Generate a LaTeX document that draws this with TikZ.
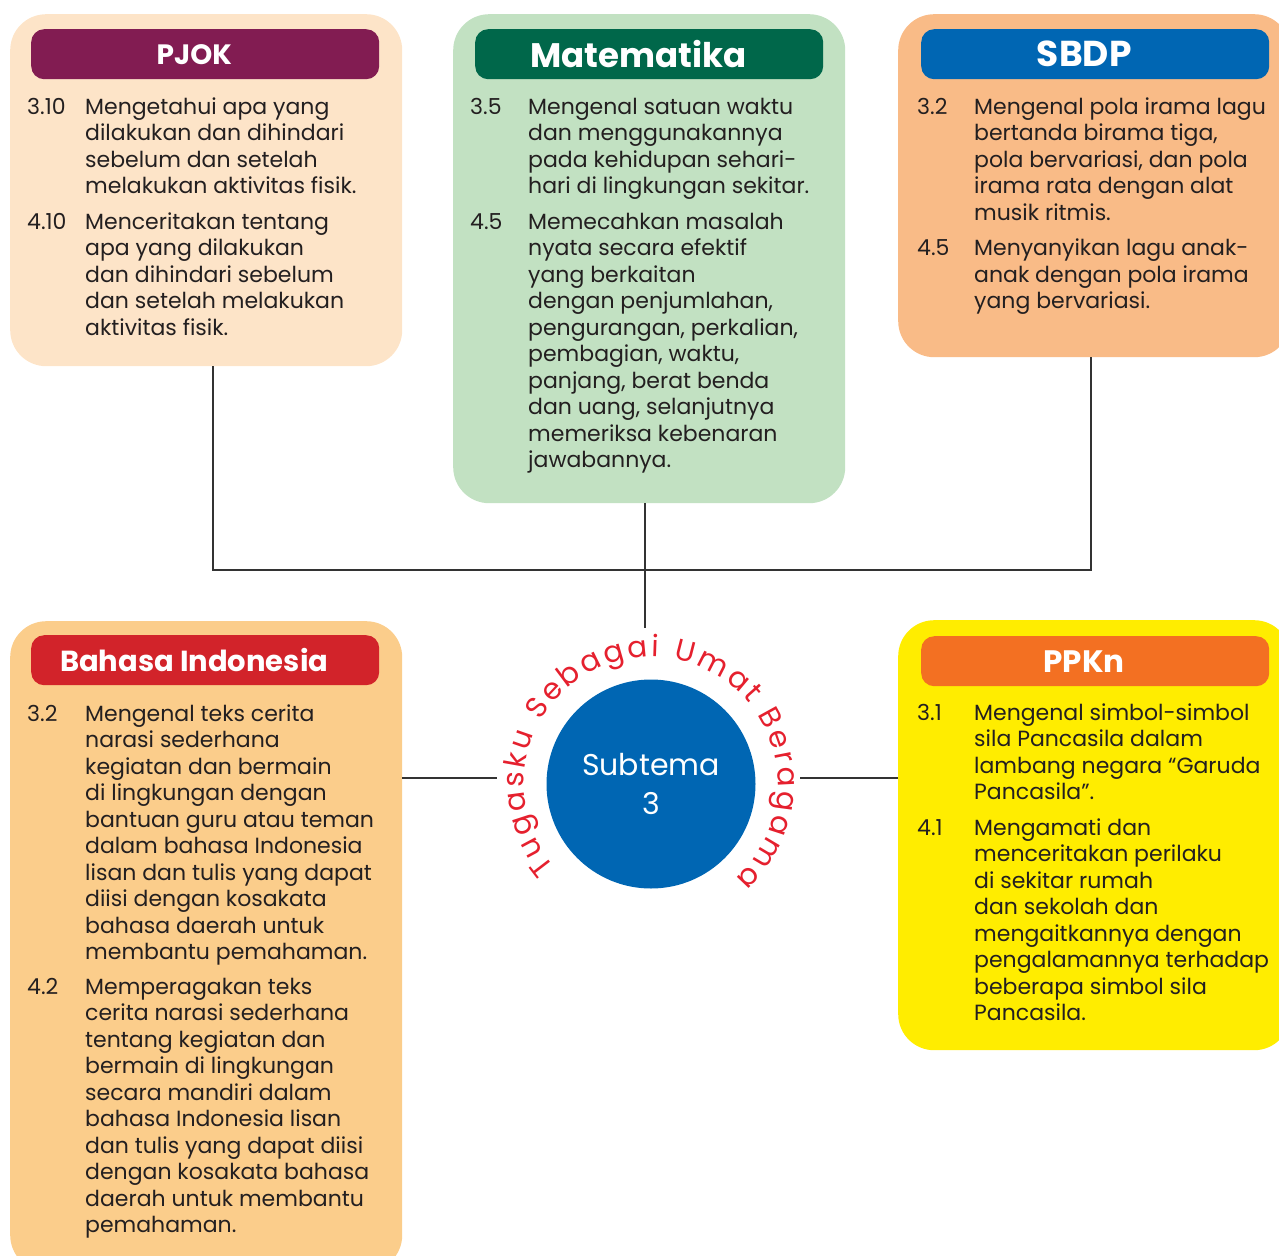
\documentclass[tikz,border=0pt]{standalone}
\usepackage{fontspec}
\setmainfont{Poppins}
\usetikzlibrary{decorations.text}

\definecolor{pjokfill}{HTML}{FDE4C8}
\definecolor{pjokhead}{HTML}{821C52}
\definecolor{matfill}{HTML}{C2E1C2}
\definecolor{mathead}{HTML}{00674A}
\definecolor{sbdpfill}{HTML}{F9BB87}
\definecolor{sbdphead}{HTML}{0066B3}
\definecolor{bindfill}{HTML}{FBCD8B}
\definecolor{bindhead}{HTML}{D2232A}
\definecolor{ppknfill}{HTML}{FFED00}
\definecolor{ppknhead}{HTML}{F37022}
\definecolor{temablue}{HTML}{0066B3}
\definecolor{arcred}{HTML}{E5202E}
\definecolor{ink}{HTML}{231F20}
\definecolor{linegray}{HTML}{333333}

\newcommand\headsz[1]{\bfseries\fontsize{#1}{#1}\selectfont}
\newcommand\arcfont{\fontsize{29.5}{30}\selectfont}

\begin{document}
\begin{tikzpicture}[
  x=1pt, y=1pt,
  panel/.style = {rectangle, rounded corners=36pt, fill=#1,
                  anchor=north west, inner sep=0pt},
  head/.style  = {rectangle, rounded corners=13pt, fill=#1,
                  text=white, anchor=north west, inner sep=0pt,
                  minimum width=348pt, minimum height=50pt,
                  execute at end node=\hspace*{22pt}},
  body/.style  = {anchor=base west, inner sep=0pt, text=ink,
                  font=\fontsize{22}{26.5}\selectfont},
  link/.style  = {draw=linegray, line width=2.5pt},
]
\clip (0,0) rectangle (1279,-1255);

%% ══ TOP ROW ═════════════════════════════════════════════════════════════
\node[panel=pjokfill, minimum width=392pt, minimum height=352pt]
  at (10,-14) (pjok) {};
\node[head=pjokhead, font=\headsz{28}] at (31,-29) (pjok-head) {PJOK};
\node[body] at (27,-114) (pjok-body) {%
  \begin{tabular}[t]{@{}p{58pt}@{}l@{}}
  3.10 & Mengetahui apa yang\\
       & dilakukan dan dihindari\\
       & sebelum dan setelah\\
       & melakukan aktivitas fisik.\\[9pt]
  4.10 & Menceritakan tentang\\
       & apa yang dilakukan\\
       & dan dihindari sebelum\\
       & dan setelah melakukan\\
       & aktivitas fisik.
  \end{tabular}};

\node[panel=matfill, minimum width=392pt, minimum height=489pt]
  at (453,-14) (mat) {};
\node[head=mathead, font=\headsz{34}] at (475,-29) (mat-head) {Matematika};
\node[body] at (470,-114) (mat-body) {%
  \begin{tabular}[t]{@{}p{58pt}@{}l@{}}
  3.5 & Mengenal satuan waktu\\
      & dan menggunakannya\\
      & pada kehidupan sehari-\\
      & hari di lingkungan sekitar.\\[9pt]
  4.5 & Memecahkan masalah\\
      & nyata secara efektif\\
      & yang berkaitan\\
      & dengan penjumlahan,\\
      & pengurangan, perkalian,\\
      & pembagian, waktu,\\
      & panjang, berat benda\\
      & dan uang, selanjutnya\\
      & memeriksa kebenaran\\
      & jawabannya.
  \end{tabular}};

\node[panel=sbdpfill, minimum width=392pt, minimum height=343pt]
  at (898,-14) (sbdp) {};
\node[head=sbdphead, font=\headsz{36}] at (921,-29) (sbdp-head) {SBDP};
\node[body] at (917,-114) (sbdp-body) {%
  \begin{tabular}[t]{@{}p{57pt}@{}l@{}}
  3.2 & Mengenal pola irama lagu\\
      & bertanda birama tiga,\\
      & pola bervariasi, dan pola\\
      & irama rata dengan alat\\
      & musik ritmis.\\[9pt]
  4.5 & Menyanyikan lagu anak-\\
      & anak dengan pola irama\\
      & yang bervariasi.
  \end{tabular}};

%% ══ BOTTOM ROW ══════════════════════════════════════════════════════════
\node[panel=bindfill, minimum width=392pt, minimum height=650pt]
  at (10,-621) (bind) {};
\node[head=bindhead, font=\headsz{29}] at (31,-635) (bind-head) {Bahasa Indonesia};
\node[body] at (27,-721) (bind-body) {%
  \begin{tabular}[t]{@{}p{58pt}@{}l@{}}
  3.2 & Mengenal teks cerita\\
      & narasi sederhana\\
      & kegiatan dan bermain\\
      & di lingkungan dengan\\
      & bantuan guru atau teman\\
      & dalam bahasa Indonesia\\
      & lisan dan tulis yang dapat\\
      & diisi dengan kosakata\\
      & bahasa daerah untuk\\
      & membantu pemahaman.\\[8pt]
  4.2 & Memperagakan teks\\
      & cerita narasi sederhana\\
      & tentang kegiatan dan\\
      & bermain di lingkungan\\
      & secara mandiri dalam\\
      & bahasa Indonesia lisan\\
      & dan tulis yang dapat diisi\\
      & dengan kosakata bahasa\\
      & daerah untuk membantu\\
      & pemahaman.
  \end{tabular}};

\node[panel=ppknfill, minimum width=392pt, minimum height=430pt]
  at (898,-620) (ppkn) {};
\node[head=ppknhead, font=\headsz{31}] at (921,-636) (ppkn-head) {PPKn};
\node[body] at (917,-720) (ppkn-body) {%
  \begin{tabular}[t]{@{}p{57pt}@{}l@{}}
  3.1 & Mengenal simbol-simbol\\
      & sila Pancasila dalam\\
      & lambang negara “Garuda\\
      & Pancasila”.\\[9pt]
  4.1 & Mengamati dan\\
      & menceritakan perilaku\\
      & di sekitar rumah\\
      & dan sekolah dan\\
      & mengaitkannya dengan\\
      & pengalamannya terhadap\\
      & beberapa simbol sila\\
      & Pancasila.
  \end{tabular}};

%% ══ CENTRE: Subtema ═════════════════════════════════════════════════════
\node[circle, fill=temablue, minimum size=209pt, inner sep=0pt,
      text=white, align=center, font=\fontsize{30}{39}\selectfont]
  at (651,-784) (tema) {Subtema\\3};

\path[decorate, decoration={text along path, text align=fit to path,
      text color=arcred, text={|\arcfont|Tugasku Sebagai Umat Beragama}}]
  (tema.center) ++(221:127pt) arc[start angle=221, end angle=-48, radius=127pt];

%% ── connectors ──────────────────────────────────────────────────────────
\coordinate (bus-l)   at (213,-570);
\coordinate (bus-r)   at (1091,-570);
\coordinate (mat-end) at (645,-628);
\coordinate (bi-end)  at (497,-778);
\coordinate (pp-end)  at (800,-778);

\draw[link] (pjok.south -| bus-l) -- (bus-l) -- (bus-r) -- (sbdp.south -| bus-r);
\draw[link] (mat.south -| mat-end) -- (mat-end);
\draw[link] (bind.east |- bi-end) -- (bi-end);
\draw[link] (pp-end) -- (ppkn.west |- pp-end);

\end{tikzpicture}
\end{document}
